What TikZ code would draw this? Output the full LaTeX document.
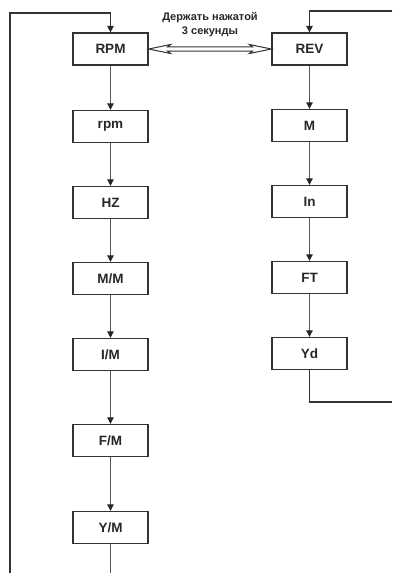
\documentclass[tikz,border=0pt]{standalone}
\usepackage{fontspec}
\setmainfont{Liberation Sans}
\usetikzlibrary{arrows.meta,calc}
\begin{document}
\begin{tikzpicture}[x=1pt,y=-1pt,
  box/.style={draw=black!80,line width=1.3pt,minimum width=75pt,minimum height=32pt,inner sep=0pt,font=\bfseries\fontsize{13.5}{15}\selectfont,text=black!85},
  conn/.style={draw=black!65,line width=0.8pt,-{Triangle[width=6.5pt,length=6.5pt,black!85]}},
  loop/.style={draw=black!80,line width=1.3pt},
  loopa/.style={loop,-{Triangle[width=6.5pt,length=6.5pt,black!85]}}]
\useasboundingbox (0,0) rectangle (392,573);
% left column
\node[box] (RPM) at (110.5,49) {RPM};
\node[box] (rpm) at (110.5,126.5) {rpm};
\node[box] (HZ) at (110.5,202.5) {HZ};
\node[box] (MM) at (110.5,278.5) {M/M};
\node[box] (IM) at (110.5,354.5) {I/M};
\node[box] (FM) at (110.5,440.5) {F/M};
\node[box] (YM) at (110.5,527.5) {Y/M};
% right column
\node[box] (REV) at (309.5,49) {REV};
\node[box] (M) at (309.5,125.5) {M};
\node[box] (In) at (309.5,201.5) {In};
\node[box] (FT) at (309.5,277.5) {FT};
\node[box] (Yd) at (309.5,353.5) {Yd};
% caption
\node[align=center,font=\bfseries\fontsize{11}{14}\selectfont,inner sep=0pt,text=black!85] (cap) at (210,25) {Держать нажатой\\3 секунды};
% vertical connectors
\draw[conn] (RPM) -- (rpm);
\draw[conn] (rpm) -- (HZ);
\draw[conn] (HZ) -- (MM);
\draw[conn] (MM) -- (IM);
\draw[conn] (IM) -- (FM);
\draw[conn] (FM) -- (YM);
\draw[conn] (REV) -- (M);
\draw[conn] (M) -- (In);
\draw[conn] (In) -- (FT);
\draw[conn] (FT) -- (Yd);
% left loop
\coordinate (lb) at (10,573);
\coordinate (ymb) at (110.5,573);
\draw[loopa] (lb) -- (10,13) -| (RPM.north);
\draw[draw=black!65,line width=0.8pt] (YM.south) -- (ymb);
% right loop
\coordinate (rt) at (392,11);
\coordinate (rb) at (392,402);
\draw[loopa] (rt) -| (REV.north);
\draw[loop] (Yd.south) |- (rb);
% double hollow arrow
\draw[draw=black!80,line width=1pt,fill=white,line join=miter]
  (RPM.east) -- ($(RPM.east)+(22,-4.5)$) -- ($(RPM.east)+(19,-2.2)$)
  -- ($(REV.west)+(-19,-2.2)$) -- ($(REV.west)+(-22,-4.5)$) -- (REV.west)
  -- ($(REV.west)+(-22,4.5)$) -- ($(REV.west)+(-19,2.2)$)
  -- ($(RPM.east)+(19,2.2)$) -- ($(RPM.east)+(22,4.5)$) -- cycle;
\end{tikzpicture}
\end{document}
